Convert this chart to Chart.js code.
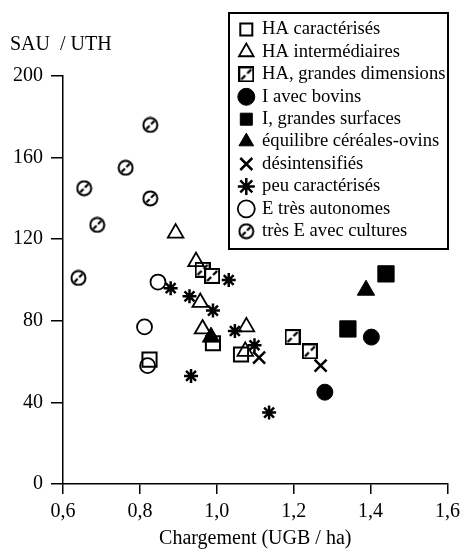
<!DOCTYPE html>
<html>
<head>
<meta charset="utf-8">
<script src="https://cdn.jsdelivr.net/npm/chart.js@4/dist/chart.umd.min.js"></script>
<style>
  html, body { margin: 0; padding: 0; background: #fff; }
  #wrap { width: 466px; height: 556px; }
</style>
</head>
<body>
<div id="wrap"><canvas id="chart" width="466" height="556"></canvas></div>
<script>
// séries : [chargement, SAU/UTH]
const haCaracterises = [[0.825, 61], [0.99, 69], [1.063, 63.5]];
const haIntermediaires = [[0.893, 123], [0.946, 109], [0.957, 89], [0.963, 76], [1.077, 77], [1.074, 65]];
const haGrandes = [[0.963, 105], [0.988, 102], [1.197, 72], [1.242, 65]];
const iBovins = [[1.402, 72], [1.281, 45]];
const iGrandesSurfaces = [[1.440, 103], [1.341, 76]];
const equilibreOvins = [[1.388, 95], [0.985, 72]];
const desintensifies = [[1.270, 58], [1.110, 62]];
const peuCaracterises = [[0.880, 96], [1.031, 100], [0.929, 92], [0.99, 85], [1.047, 75], [1.098, 68], [0.933, 53], [1.136, 35]];
const eAutonomes = [[0.847, 99], [0.812, 77], [0.82, 58]];
const tresECultures = [[0.827, 176], [0.763, 155], [0.655, 145], [0.827, 140], [0.689, 127], [0.640, 101]];

const xTicks = [0.6, 0.8, 1.0, 1.2, 1.4, 1.6];
const yTicks = [0, 40, 80, 120, 160, 200];

const FONT = 'Liberation Serif';

// marqueurs hachurés
function hatchSquare() {
    const c = document.createElement('canvas');
    c.width = 16; c.height = 16;
    const g = c.getContext('2d');
    g.fillStyle = '#fff';
    g.fillRect(1, 1, 14, 14);
    g.strokeStyle = '#000';
    g.lineWidth = 2;
    g.strokeRect(1, 1, 14, 14);
    g.lineWidth = 2.4;
    g.beginPath();
    g.moveTo(3, 13); g.lineTo(7, 9);
    g.moveTo(9, 7); g.lineTo(13, 3);
    g.stroke();
    return c;
}

function hatchCircle() {
    const c = document.createElement('canvas');
    c.width = 17; c.height = 17;
    const g = c.getContext('2d');
    g.fillStyle = '#fff';
    g.strokeStyle = '#000';
    g.lineWidth = 2;
    g.beginPath();
    g.arc(8.5, 8.5, 7, 0, Math.PI * 2);
    g.fill();
    g.stroke();
    g.lineWidth = 2.2;
    g.beginPath();
    g.moveTo(4.5, 12.5); g.lineTo(7.8, 9.2);
    g.moveTo(9.2, 7.8); g.lineTo(12.5, 4.5);
    g.stroke();
    return c;
}

const pts = arr => arr.map(p => ({ x: p[0], y: p[1] }));
const none = 'rgba(0,0,0,0)';

const datasets = [
    { label: 'HA caractérisés', data: pts(haCaracterises), pointStyle: 'rect', pointRadius: 10, backgroundColor: none, borderColor: '#000', borderWidth: 2 },
    { label: 'HA intermédiaires', data: pts(haIntermediaires), pointStyle: 'triangle', pointRadius: 9, backgroundColor: none, borderColor: '#000', borderWidth: 1.8 },
    { label: 'HA, grandes dimensions', data: pts(haGrandes), pointStyle: hatchSquare(), backgroundColor: '#fff', borderColor: '#000', borderWidth: 2 },
    { label: 'I avec bovins', data: pts(iBovins), pointStyle: 'circle', pointRadius: 8, backgroundColor: '#000', borderColor: '#000', borderWidth: 1 },
    { label: 'I, grandes surfaces', data: pts(iGrandesSurfaces), pointStyle: 'rect', pointRadius: 11.5, backgroundColor: '#000', borderColor: '#000', borderWidth: 1 },
    { label: 'équilibre céréales-ovins', data: pts(equilibreOvins), pointStyle: 'triangle', pointRadius: 10, backgroundColor: '#000', borderColor: '#000', borderWidth: 1 },
    { label: 'désintensifiés', data: pts(desintensifies), pointStyle: 'crossRot', pointRadius: 8.5, backgroundColor: none, borderColor: '#000', borderWidth: 2.5 },
    { label: 'peu caractérisés', data: pts(peuCaracterises), pointStyle: 'star', pointRadius: 7, backgroundColor: none, borderColor: '#000', borderWidth: 2.5 },
    { label: 'E très autonomes', data: pts(eAutonomes), pointStyle: 'circle', pointRadius: 7.5, backgroundColor: none, borderColor: '#000', borderWidth: 1.8 },
    { label: 'très E avec cultures', data: pts(tresECultures), pointStyle: hatchCircle(), backgroundColor: '#fff', borderColor: '#000', borderWidth: 2 }
];

// légende déplacée en haut à droite, avec son cadre
const legendFrame = {
    id: 'legendFrame',
    afterLayout(chart) {
        const lg = chart.legend;
        const w = lg.width, h = lg.height;
        lg.left = 236; lg.top = 16.5;
        lg.right = lg.left + w; lg.bottom = lg.top + h;
    },
    afterDraw(chart) {
        const ctx = chart.ctx;
        ctx.save();
        ctx.strokeStyle = '#000';
        ctx.lineWidth = 2;
        ctx.strokeRect(229, 13, 219, 236);
        ctx.restore();
    }
};

function init() {
    const ctx = document.getElementById('chart').getContext('2d');
    new Chart(ctx, {
        type: 'scatter',
        data: { datasets: datasets },
        plugins: [legendFrame],
        options: {
            responsive: false,
            animation: false,
            layout: { padding: { left: 10, right: 17, top: 33, bottom: 4 } },
            scales: {
                x: {
                    type: 'linear',
                    min: xTicks[0],
                    max: xTicks[xTicks.length - 1],
                    afterBuildTicks: scale => { scale.ticks = xTicks.map(v => ({ value: v })); },
                    afterFit: scale => { scale.height = 68; },
                    ticks: {
                        color: '#000',
                        font: { family: FONT, size: 20 },
                        padding: 6,
                        maxRotation: 0,
                        callback: v => v.toFixed(1).replace('.', ',')
                    },
                    grid: { drawOnChartArea: false, drawTicks: true, tickLength: 10, color: '#000', lineWidth: 1.5 },
                    border: { display: true, color: '#000', width: 1.5 },
                    title: {
                        display: true,
                        text: 'Chargement (UGB / ha)',
                        color: '#000',
                        font: { family: FONT, size: 20 },
                        padding: { top: 0, bottom: 1 }
                    }
                },
                y: {
                    type: 'linear',
                    min: yTicks[0],
                    max: yTicks[yTicks.length - 1],
                    afterBuildTicks: scale => { scale.ticks = yTicks.map(v => ({ value: v })); },
                    afterFit: scale => { scale.width = 53; },
                    ticks: {
                        color: '#000',
                        font: { family: FONT, size: 20 },
                        padding: 8
                    },
                    grid: { drawOnChartArea: false, drawTicks: true, tickLength: 12, color: '#000', lineWidth: 1.5 },
                    border: { display: true, color: '#000', width: 1.5 }
                }
            },
            plugins: {
                title: {
                    display: true,
                    text: 'SAU  / UTH',
                    align: 'start',
                    color: '#000',
                    font: { family: FONT, size: 20, weight: 'normal' },
                    padding: { top: 0, bottom: 19 }
                },
                legend: {
                    position: 'chartArea',
                    align: 'start',
                    labels: {
                        usePointStyle: true,
                        boxWidth: 13,
                        boxHeight: 12,
                        padding: 3.8,
                        color: '#000',
                        font: { family: FONT, size: 18.6 }
                    }
                },
                tooltip: { enabled: false }
            }
        }
    });
}

if (document.readyState === 'loading') {
    document.addEventListener('DOMContentLoaded', init);
} else {
    init();
}
</script>
</body>
</html>
